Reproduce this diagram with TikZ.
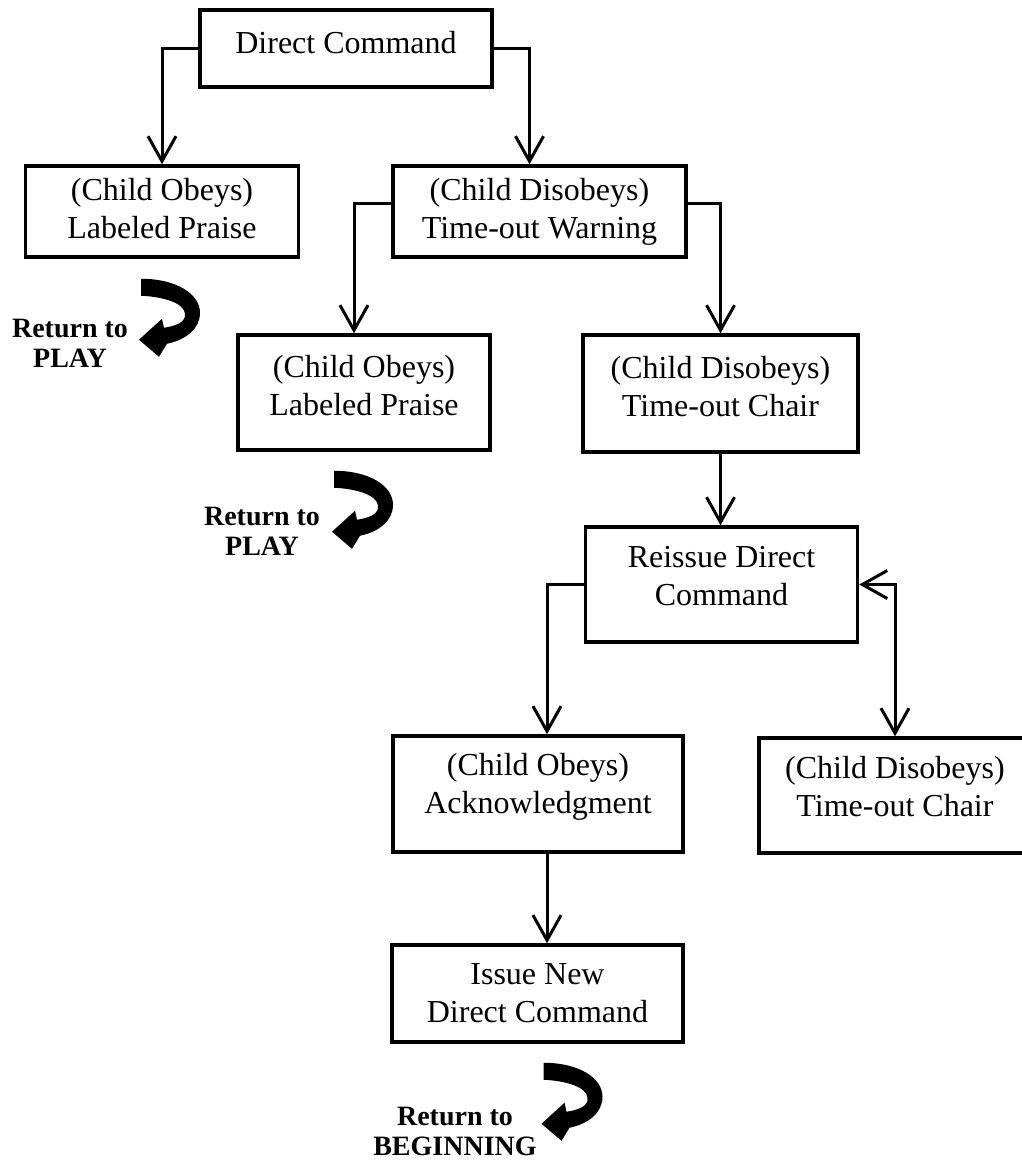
\documentclass[tikz,border=0pt]{standalone}
\usepackage{fontspec}
\setmainfont{Liberation Serif}
\usetikzlibrary{arrows.meta}
\usetikzlibrary{calc}

\tikzset{
  stepbox/.style={draw, line width=3.5pt, rectangle, align=center, inner sep=0pt,
    text depth=15pt, font=\fontsize{32}{38}\selectfont},
  conn/.style={line width=3pt, -{Straight Barb[length=25pt,width=28pt]}},
  backtext/.style={align=center, font=\fontsize{28}{30}\selectfont\bfseries},
  returnarrow/.pic={
    \fill (0,0) .. controls (35,0) and (59,15) .. (59,34)
      .. controls (59,50) and (45,61) .. (26,65)
      -- (18,78) -- (-2,61) -- (21,40) -- (23,49)
      .. controls (36,47) and (45,43) .. (44,35)
      .. controls (43,24) and (22,18) .. (0,17) -- cycle;
  }
}

\begin{document}
\begin{tikzpicture}[x=1pt,y=-1pt]
		\useasboundingbox (0,0) rectangle (1021,1160);
		% boxes
		\node[stepbox, minimum width=292pt, minimum height=77pt, text depth=12pt] (cmd) at (346,48.5) {Direct Command};
		\node[stepbox, minimum width=273pt, minimum height=91pt, text depth=6pt] (obey1) at (162,211.5) {(Child Obeys)\\Labeled Praise};
		\node[stepbox, minimum width=293pt, minimum height=91pt, text depth=6pt] (warn) at (539.5,211.5) {(Child Disobeys)\\Time-out Warning};
		\node[stepbox, minimum width=252pt, minimum height=115pt] (obey2) at (364,392.5) {(Child Obeys)\\Labeled Praise};
		\node[stepbox, minimum width=275pt, minimum height=117pt] (chair1) at (720.5,393.5) {(Child Disobeys)\\Time-out Chair};
		\node[stepbox, minimum width=272pt, minimum height=115pt, text depth=18pt] (reissue) at (721.5,584.5) {Reissue Direct\\Command};
		\node[stepbox, minimum width=290pt, minimum height=116pt, text depth=22pt] (ack) at (538,794) {(Child Obeys)\\Acknowledgment};
		\node[stepbox, minimum width=272pt, minimum height=115pt, text depth=18pt] (chair2) at (895,795.5) {(Child Disobeys)\\Time-out Chair};
		\node[stepbox, minimum width=291pt, minimum height=97pt, text depth=0pt] (newcmd) at (537.5,993.5) {Issue New\\Direct Command};
		% connectors
		\draw[conn] (cmd.west) -| (obey1.north);
		\draw[conn] (cmd.east) -| ([xshift=-10pt]warn.north);
		\draw[conn] ([yshift=8pt]warn.west) -| ([xshift=-10pt]obey2.north);
		\draw[conn] ([yshift=8pt]warn.east) -| (chair1.north);
		\draw[conn] (chair1.south) -- (chair1.south |- reissue.north);
		\draw[conn] (reissue.west) -| ([xshift=9pt]ack.north);
		\draw[conn, {Straight Barb[length=25pt,width=28pt]}-{Straight Barb[length=25pt,width=28pt]}] (reissue.east) -| (chair2.north);
		\draw[conn] ([xshift=9pt]ack.south) -- ([xshift=9pt]ack.south |- newcmd.north);
		% return arrows
		\pic at ([shift={(-21,20)}]obey1.south) {returnarrow};
		\pic at ([shift={(-30,19)}]obey2.south) {returnarrow};
		\pic at ([shift={(6,19)}]newcmd.south) {returnarrow};
		\node[backtext] (play1) at (70,343) {Return to\\PLAY};
		\node[backtext] (play2) at (262,531) {Return to\\PLAY};
		\node[backtext] (begin) at (455,1131) {Return to\\BEGINNING};
	\end{tikzpicture}
\end{document}
